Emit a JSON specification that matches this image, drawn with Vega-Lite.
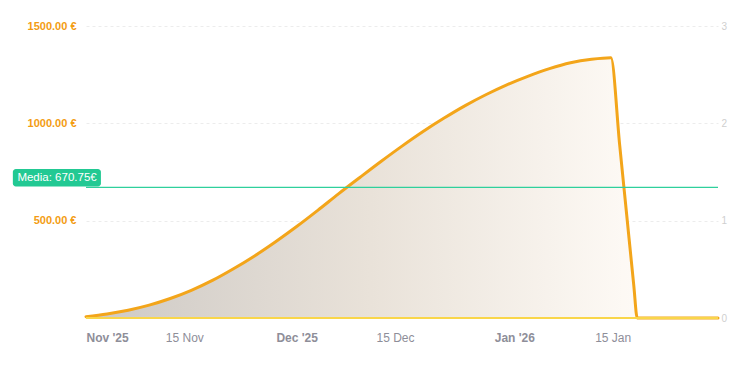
{
  "$schema": "https://vega.github.io/schema/vega-lite/v6.json",
  "width": 632,
  "height": 292,
  "autosize": {"type": "none"},
  "padding": {"left": 86, "top": 26, "right": 24, "bottom": 58},
  "background": "#ffffff",
  "config": {
    "font": "Liberation Sans",
    "view": {"stroke": null}
  },
  "datasets": {
    "series": [
      {"date": "2025-11-01T00:00:00Z", "value": 7, "count": 0},
      {"date": "2025-11-04T00:00:00Z", "value": 21, "count": 0},
      {"date": "2025-11-07T00:00:00Z", "value": 40, "count": 0},
      {"date": "2025-11-10T00:00:00Z", "value": 66, "count": 0},
      {"date": "2025-11-13T00:00:00Z", "value": 100, "count": 0},
      {"date": "2025-11-16T00:00:00Z", "value": 142, "count": 0},
      {"date": "2025-11-19T00:00:00Z", "value": 193, "count": 0},
      {"date": "2025-11-22T00:00:00Z", "value": 253, "count": 0},
      {"date": "2025-11-25T00:00:00Z", "value": 319, "count": 0},
      {"date": "2025-11-28T00:00:00Z", "value": 392, "count": 0},
      {"date": "2025-12-01T00:00:00Z", "value": 470, "count": 0},
      {"date": "2025-12-04T00:00:00Z", "value": 553, "count": 0},
      {"date": "2025-12-07T00:00:00Z", "value": 639, "count": 0},
      {"date": "2025-12-10T00:00:00Z", "value": 722, "count": 0},
      {"date": "2025-12-13T00:00:00Z", "value": 804, "count": 0},
      {"date": "2025-12-16T00:00:00Z", "value": 883, "count": 0},
      {"date": "2025-12-19T00:00:00Z", "value": 958, "count": 0},
      {"date": "2025-12-22T00:00:00Z", "value": 1027, "count": 0},
      {"date": "2025-12-25T00:00:00Z", "value": 1091, "count": 0},
      {"date": "2025-12-28T00:00:00Z", "value": 1148, "count": 0},
      {"date": "2025-12-31T00:00:00Z", "value": 1199, "count": 0},
      {"date": "2026-01-03T00:00:00Z", "value": 1243, "count": 0},
      {"date": "2026-01-06T00:00:00Z", "value": 1281, "count": 0},
      {"date": "2026-01-09T00:00:00Z", "value": 1311, "count": 0},
      {"date": "2026-01-12T00:00:00Z", "value": 1329, "count": 0},
      {"date": "2026-01-14T18:00:00Z", "value": 1337, "count": 0},
      {"date": "2026-01-16T00:00:00Z", "value": 888, "count": 0},
      {"date": "2026-01-17T00:00:00Z", "value": 529, "count": 0},
      {"date": "2026-01-18T00:00:00Z", "value": 170, "count": 0},
      {"date": "2026-01-18T12:00:00Z", "value": 0, "count": 0},
      {"date": "2026-01-22T00:00:00Z", "value": 0, "count": 0},
      {"date": "2026-01-26T00:00:00Z", "value": 0, "count": 0},
      {"date": "2026-01-30T00:00:00Z", "value": 0, "count": 0}
    ],
    "median": [
      {"date": "2025-11-01T00:00:00Z", "date2": "2026-01-30T00:00:00Z", "value": 670.75, "label": "Media: 670.75€",
       "boxStart": "2025-10-21T14:00:00Z", "boxEnd": "2025-11-03T03:00:00Z", "boxLow": 676, "boxHigh": 765,
       "labelDate": "2025-10-27T21:00:00Z", "labelValue": 720}
    ]
  },
  "layer": [
    {
      "data": {"name": "series"},
      "layer": [
        {
          "mark": {
            "type": "area",
            "interpolate": "monotone",
            "color": {
              "gradient": "linear",
              "x1": 0, "y1": 0, "x2": 1, "y2": 0,
              "stops": [
                {"offset": 0, "color": "#cdc9c5"},
                {"offset": 0.45, "color": "#e9e2d9"},
                {"offset": 0.85, "color": "#fdf9f4"},
                {"offset": 1, "color": "#ffffff"}
              ]
            }
          },
          "encoding": {
            "x": {
              "field": "date", "type": "temporal",
              "scale": {"type": "utc", "domain": [{"year": 2025, "month": 11, "date": 1, "utc": true}, {"year": 2026, "month": 1, "date": 30, "utc": true}]},
              "axis": {
                "title": null,
                "grid": false,
                "domain": false,
                "ticks": false,
                "labelPadding": 14,
                "labelFontSize": 12,
                "labelColor": "#8e8e99",
                "labelFontWeight": {"condition": {"test": "utcdate(datum.value) == 1", "value": "bold"}, "value": "normal"},
                "values": [
                  {"year": 2025, "month": 11, "date": 1, "utc": true},
                  {"year": 2025, "month": 11, "date": 15, "utc": true},
                  {"year": 2025, "month": 12, "date": 1, "utc": true},
                  {"year": 2025, "month": 12, "date": 15, "utc": true},
                  {"year": 2026, "month": 1, "date": 1, "utc": true},
                  {"year": 2026, "month": 1, "date": 15, "utc": true}
                ],
                "labelExpr": "utcdate(datum.value) == 1 ? utcFormat(datum.value, \"%b '%y\") : utcFormat(datum.value, '%d %b')"
              }
            },
            "y": {
              "field": "value", "type": "quantitative",
              "scale": {"domain": [0, 1500], "nice": false},
              "axis": {
                "title": null,
                "values": [0, 500, 1000, 1500],
                "domain": false,
                "ticks": false,
                "labelPadding": 10,
                "labelFontSize": 11,
                "labelFontWeight": "bold",
                "labelColor": "#f39c12",
                "labelExpr": "datum.value == 0 ? '' : format(datum.value, '.2f') + ' €'",
                "gridColor": "#ececec",
                "gridDash": [3, 3]
              }
            }
          }
        },
        {
          "mark": {"type": "line", "interpolate": "monotone", "color": "#f3a51a", "strokeWidth": 3, "strokeCap": "round"},
          "encoding": {
            "x": {"field": "date", "type": "temporal", "scale": {"type": "utc"}},
            "y": {"field": "value", "type": "quantitative"}
          }
        },
        {
          "data": {"name": "median"},
          "mark": {"type": "rule", "color": "#2fd09c", "strokeWidth": 1.3},
          "encoding": {
            "x": {"field": "date", "type": "temporal", "scale": {"type": "utc"}},
            "x2": {"field": "date2"},
            "y": {"field": "value", "type": "quantitative"}
          }
        },
        {
          "data": {"name": "median"},
          "mark": {"type": "rect", "color": "#22c993", "cornerRadius": 3},
          "encoding": {
            "x": {"field": "boxStart", "type": "temporal", "scale": {"type": "utc"}},
            "x2": {"field": "boxEnd"},
            "y": {"field": "boxLow", "type": "quantitative"},
            "y2": {"field": "boxHigh"}
          }
        },
        {
          "data": {"name": "median"},
          "mark": {"type": "text", "color": "#ffffff", "fontSize": 11.5, "align": "center", "baseline": "middle"},
          "encoding": {
            "x": {"field": "labelDate", "type": "temporal", "scale": {"type": "utc"}},
            "y": {"field": "labelValue", "type": "quantitative"},
            "text": {"field": "label"}
          }
        }
      ]
    },
    {
      "data": {"name": "series"},
      "mark": {"type": "line", "color": "#f9d64a", "strokeWidth": 2},
      "encoding": {
        "x": {"field": "date", "type": "temporal", "scale": {"type": "utc"}},
        "y": {
          "field": "count", "type": "quantitative",
          "scale": {"domain": [0, 3], "nice": false},
          "axis": {
            "orient": "right",
            "title": null,
            "values": [0, 1, 2, 3],
            "grid": false,
            "domain": false,
            "ticks": false,
            "labelPadding": 3,
            "labelFontSize": 10,
            "labelColor": "#cfcfcf"
          }
        }
      }
    }
  ],
  "resolve": {"scale": {"y": "independent"}, "axis": {"y": "independent"}}
}
